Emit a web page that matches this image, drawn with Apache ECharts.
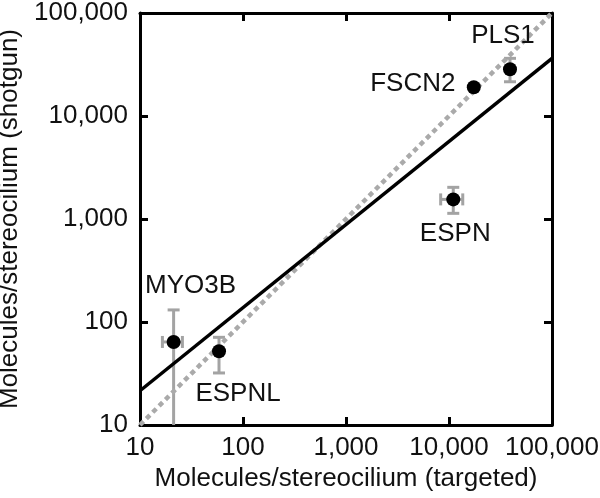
<!DOCTYPE html>
<html><head><meta charset="utf-8">
<script src="https://cdn.jsdelivr.net/npm/echarts@6/dist/echarts.min.js"></script>
<style>html,body{margin:0;padding:0;background:#fff}#c{width:600px;height:498px}</style>
</head><body><div id="c"></div>
<script>
// ---- data ----
const proteins = ['MYO3B', 'ESPNL', 'ESPN', 'FSCN2', 'PLS1'];
const targeted = [21.2, 58.5, 11000, 17400, 39100];
const shotgun = [64, 52, 1550, 19000, 28400];
const targetedLow = [16.5, 58.5, 8300, 17400, 39100];
const targetedHigh = [25.8, 58.5, 13600, 17400, 39100];
const shotgunLow = [5, 32, 1135, 19000, 21500];
const shotgunHigh = [131, 71, 2030, 19000, 36300];
const fitLineX = [10, 100000];
const fitLineY = [21.5, 36300];
const identityX = [10, 100000];
const identityY = [10, 100000];
const axisMin = 10, axisMax = 100000;

// ---- label placement (styling, pixels) ----
const labelOffsets = {MYO3B: [17, -56], ESPNL: [19, 43], ESPN: [2, 34], FSCN2: [-61, -3], PLS1: [-7, -33]};

const FONT = '"Liberation Sans", Arial, sans-serif';
const fmt = v => Math.round(v).toLocaleString('en-US');

const pointData = proteins.map((p, i) => ({
  name: p,
  value: [targeted[i], shotgun[i]],
  label: {offset: labelOffsets[p]}
}));
const errData = proteins.map((p, i) => [targeted[i], shotgun[i], targetedLow[i], targetedHigh[i], shotgunLow[i], shotgunHigh[i]]);

const axisCommon = {
  type: 'log', logBase: 10, min: axisMin, max: axisMax,
  axisLine: {show: true, lineStyle: {color: '#000', width: 3}},
  axisTick: {show: true, inside: true, length: 8, lineStyle: {color: '#000', width: 3}},
  minorTick: {show: false},
  splitLine: {show: false},
};

const option = {
  backgroundColor: '#fff',
  animation: false,
  grid: {left: 140, right: 48, top: 13, bottom: 73, containLabel: false, outerBoundsMode: 'none'},
  xAxis: [
    Object.assign({}, axisCommon, {
      position: 'bottom',
      name: 'Molecules/stereocilium (targeted)', nameLocation: 'middle', nameGap: 40,
      nameTextStyle: {fontFamily: FONT, fontSize: 26, color: '#111'},
      axisLabel: {formatter: fmt, fontFamily: FONT, fontSize: 26, color: '#111', margin: 10}
    }),
    Object.assign({}, axisCommon, {position: 'top', axisLabel: {show: false}})
  ],
  yAxis: [
    Object.assign({}, axisCommon, {
      position: 'left',
      name: 'Molecules/stereocilium (shotgun)', nameLocation: 'middle', nameGap: 112, nameRotate: 90,
      nameTextStyle: {fontFamily: FONT, fontSize: 26, color: '#111'},
      axisLabel: {formatter: fmt, fontFamily: FONT, fontSize: 26, color: '#111', margin: 12}
    }),
    Object.assign({}, axisCommon, {position: 'right', axisLabel: {show: false}})
  ],
  series: [
    {
      type: 'custom', z: 1, clip: true,
      data: errData,
      renderItem: function (params, api) {
        const x = api.value(0), y = api.value(1);
        const xl = api.value(2), xh = api.value(3), yl = api.value(4), yh = api.value(5);
        const style = {stroke: '#a3a3a3', lineWidth: 3, fill: null};
        const cap = 6;
        const ch = [];
        if (yh > yl) {
          const a = api.coord([x, yl]), b = api.coord([x, yh]);
          ch.push({type: 'line', shape: {x1: a[0], y1: a[1], x2: b[0], y2: b[1]}, style});
          ch.push({type: 'line', shape: {x1: a[0] - cap, y1: a[1], x2: a[0] + cap, y2: a[1]}, style});
          ch.push({type: 'line', shape: {x1: b[0] - cap, y1: b[1], x2: b[0] + cap, y2: b[1]}, style});
        }
        if (xh > xl) {
          const a = api.coord([xl, y]), b = api.coord([xh, y]);
          ch.push({type: 'line', shape: {x1: a[0], y1: a[1], x2: b[0], y2: b[1]}, style});
          ch.push({type: 'line', shape: {x1: a[0], y1: a[1] - cap, x2: a[0], y2: a[1] + cap}, style});
          ch.push({type: 'line', shape: {x1: b[0], y1: b[1] - cap, x2: b[0], y2: b[1] + cap}, style});
        }
        return {type: 'group', children: ch};
      }
    },
    {
      type: 'line', z: 2, symbol: 'none', silent: true,
      data: identityX.map((v, i) => [v, identityY[i]]),
      lineStyle: {color: '#aaaaaa', width: 4.5, type: [5, 4]}
    },
    {
      type: 'line', z: 3, symbol: 'none', silent: true,
      data: fitLineX.map((v, i) => [v, fitLineY[i]]),
      lineStyle: {color: '#000', width: 3.5}
    },
    {
      type: 'scatter', z: 4, symbol: 'circle', symbolSize: 14,
      itemStyle: {color: '#000', opacity: 1},
      data: pointData,
      label: {
        show: true, position: 'inside', formatter: '{b}',
        fontFamily: FONT, fontSize: 26, color: '#111',
        align: 'center', verticalAlign: 'middle'
      }
    }
  ]
};

const chart = echarts.init(document.getElementById('c'), null, {renderer: 'canvas'});
chart.setOption(option);
</script>
</body></html>
